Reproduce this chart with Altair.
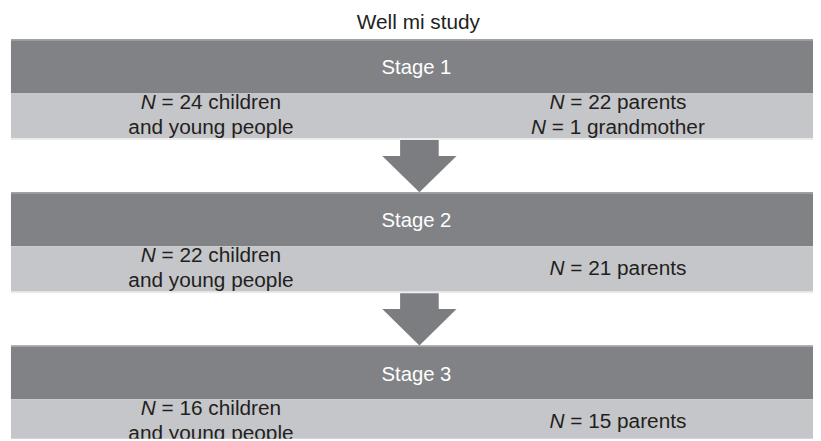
import altair as alt
import pandas as pd

# ---- content ----
title_text = "Well mi study"
stages = ["Stage 1", "Stage 2", "Stage 3"]
children_n = [24, 22, 16]
parents_n = [22, 21, 15]
grandmother_n = [1, None, None]

# ---- layout (page pixels) ----
X_LEFT, X_RIGHT = 11, 821
CX = 422.5
COL_L, COL_R = 213, 624
TOP0, PERIOD = 37.3, 154.7
DARK_H, LIGHT_H = 54.4, 46.5
SHAFT_HW, HEAD_HW, SHAFT_LEN = 19.5, 37.5, 17
FONT = "Liberation Sans, Arial, Helvetica, sans-serif"
FS = 21
DARK, LIGHT, ARROW, TXT = "#818286", "#c5c6c9", "#7c7d81", "#231f20"

AW = {' ': 278, '=': 584, 'N': 722, 'a': 556, 'b': 556, 'c': 500, 'd': 556, 'e': 556,
      'f': 278, 'g': 556, 'h': 556, 'i': 222, 'j': 222, 'k': 500, 'l': 222, 'm': 833,
      'n': 556, 'o': 556, 'p': 556, 'q': 556, 'r': 333, 's': 500, 't': 278, 'u': 556,
      'v': 500, 'w': 722, 'x': 500, 'y': 500, 'z': 500}


def tw(s, size=FS):
    return sum(AW.get(ch, 556) for ch in s) * size / 1000.0


rects, centers, n_marks, rests, heads = [], [], [], [], []
centers.append(dict(x=CX, y=26.7, text=title_text, color=TXT, size=FS))

for i, st in enumerate(stages):
    top = TOP0 + i * PERIOD
    lt = top + DARK_H
    lb = lt + LIGHT_H
    rects.append(dict(x=X_LEFT, x2=X_RIGHT, y=top, y2=lt, color=DARK))
    rects.append(dict(x=X_LEFT, x2=X_RIGHT, y=lt, y2=lb, color=LIGHT))
    rects.append(dict(x=X_LEFT, x2=X_RIGHT, y=top, y2=top + 1.5, color="#a2a3a6"))
    rects.append(dict(x=X_LEFT, x2=X_RIGHT, y=lb - 1, y2=lb + 1, color="#ececed"))
    centers.append(dict(x=CX - 2, y=top + 35.4, text=st, color="#ffffff", size=20.5))

    left = [f"N = {children_n[i]} children", "and young people"]
    right = [f"N = {parents_n[i]} parents"]
    if grandmother_n[i] is not None:
        right.append(f"N = {grandmother_n[i]} grandmother")
    for cx, lines in ((COL_L, left), (COL_R, right)):
        ys = [lt + 16, lt + 41] if len(lines) == 2 else [lt + 28.7]
        for line, y in zip(lines, ys):
            if line.startswith("N "):
                rest = line[2:]
                x0 = cx - tw(line) / 2
                n_marks.append(dict(x=x0, y=y, text="N"))
                rests.append(dict(x=x0 + tw("N "), y=y, text=rest))
            else:
                centers.append(dict(x=cx, y=y, text=line, color=TXT, size=FS))

    if i < len(stages) - 1:
        nxt = TOP0 + (i + 1) * PERIOD
        rects.append(dict(x=CX + 1 - SHAFT_HW, x2=CX + 1 + SHAFT_HW, y=lb + 1, y2=lb + SHAFT_LEN + 0.5, color=ARROW))
        heads.append(dict(a=i, y=lb + SHAFT_LEN, x=CX + 1 - HEAD_HW, x2=CX + 1 + HEAD_HW))
        heads.append(dict(a=i, y=nxt, x=CX + 1, x2=CX + 1))

xs = alt.Scale(domain=[8, 821], nice=False, zero=False)
ys = alt.Scale(domain=[8, 441], nice=False, zero=False, reverse=True)

rect_layer = alt.Chart(pd.DataFrame(rects)).mark_rect(clip=True).encode(
    x=alt.X("x:Q", scale=xs, axis=None), x2="x2:Q",
    y=alt.Y("y:Q", scale=ys, axis=None), y2="y2:Q",
    color=alt.Color("color:N", scale=None),
)

head_layer = alt.Chart(pd.DataFrame(heads)).mark_area(orient="horizontal", color=ARROW).encode(
    y=alt.Y("y:Q", scale=ys, axis=None),
    x=alt.X("x:Q", scale=xs, axis=None), x2="x2:Q",
    detail="a:N",
)

center_layer = alt.Chart(pd.DataFrame(centers)).mark_text(
    align="center", baseline="alphabetic", font=FONT, clip=True
).encode(
    x=alt.X("x:Q", scale=xs, axis=None),
    y=alt.Y("y:Q", scale=ys, axis=None),
    text="text:N",
    color=alt.Color("color:N", scale=None),
    size=alt.Size("size:Q", scale=None),
)

n_layer = alt.Chart(pd.DataFrame(n_marks)).mark_text(
    align="left", baseline="alphabetic", font=FONT, fontSize=FS, fontStyle="italic", color=TXT, clip=True
).encode(
    x=alt.X("x:Q", scale=xs, axis=None),
    y=alt.Y("y:Q", scale=ys, axis=None),
    text="text:N",
)

rest_layer = alt.Chart(pd.DataFrame(rests)).mark_text(
    align="left", baseline="alphabetic", font=FONT, fontSize=FS, color=TXT, clip=True
).encode(
    x=alt.X("x:Q", scale=xs, axis=None),
    y=alt.Y("y:Q", scale=ys, axis=None),
    text="text:N",
)

chart = alt.layer(rect_layer, head_layer, center_layer, n_layer, rest_layer).properties(
    width=813, height=433, padding=0, background="#ffffff"
).configure_view(stroke=None)

chart.save("out.html", embed_options={"renderer": "svg", "actions": False})
